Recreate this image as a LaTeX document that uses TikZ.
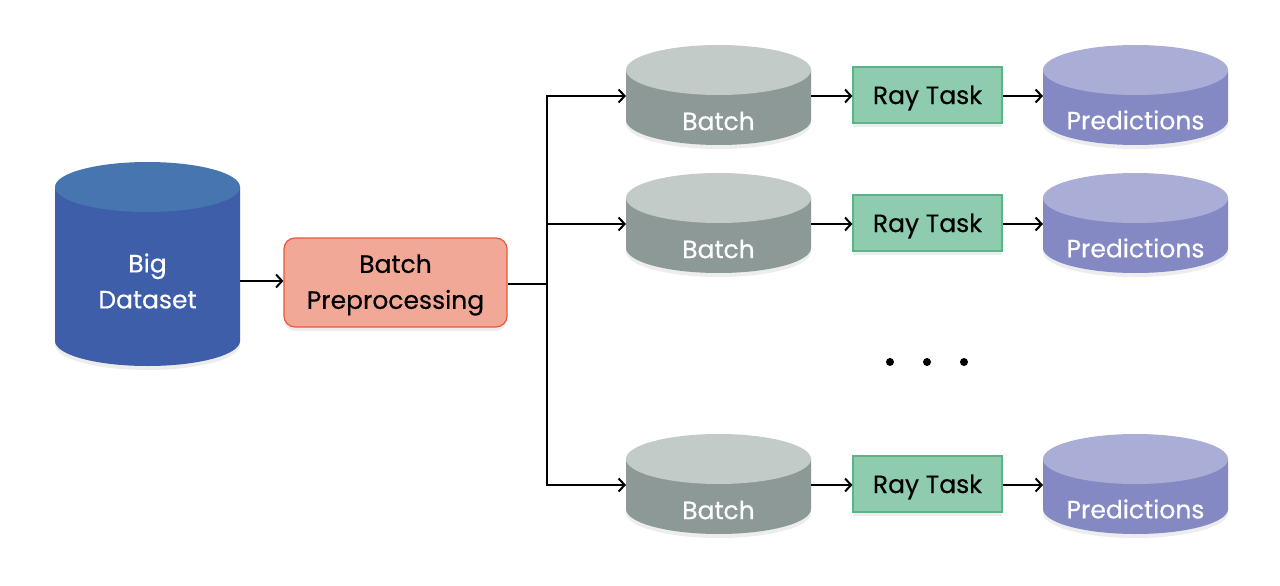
\documentclass[tikz,border=0pt]{standalone}
\usepackage{fontspec}
\setmainfont{Poppins}[FakeBold=0.4]
\usetikzlibrary{arrows.meta}
\definecolor{bigbody}{HTML}{3E5EAA}
\definecolor{bigtop}{HTML}{4775B0}
\definecolor{batchbody}{HTML}{8C9997}
\definecolor{batchtop}{HTML}{C2CBC7}
\definecolor{predbody}{HTML}{8489C3}
\definecolor{predtop}{HTML}{AAAED6}
\definecolor{prepfill}{HTML}{F2A896}
\definecolor{prepline}{HTML}{E8593C}
\definecolor{rayfill}{HTML}{8FCBAE}
\definecolor{rayline}{HTML}{5DB487}
% cylinder: #1 centre x, #2 top ellipse centre y, #3 bottom ellipse centre y, #4 rx, #5 body, #6 top
\newcommand{\mycyl}[6]{%
  \fill[black,opacity=0.07] (#1-#4,#2+4) -- (#1-#4,#3+4) arc[start angle=180,end angle=0,x radius=#4,y radius=25] -- (#1+#4,#2+4) -- cycle;
  \fill[#5] (#1-#4,#2) -- (#1-#4,#3) arc[start angle=180,end angle=0,x radius=#4,y radius=25] -- (#1+#4,#2) -- cycle;
  \fill[#6] (#1,#2) ellipse[x radius=#4,y radius=25];
}
\begin{document}
\begin{tikzpicture}[x=1pt,y=-1pt,
  txt/.style={font=\fontsize{25}{36}\selectfont, align=center, inner sep=0pt},
  anchorbox/.style={minimum width=185pt, minimum height=0pt, inner sep=0pt, outer sep=0pt},
  prepbox/.style={draw=prepline, fill=prepfill, line width=1.2pt, rounded corners=11pt,
    minimum width=223pt, minimum height=89pt, inner sep=0pt},
  raybox/.style={draw=rayline, fill=rayfill, line width=1.2pt,
    minimum width=149pt, minimum height=56pt, inner sep=0pt},
  arr/.style={line width=2pt, -{Straight Barb[length=6pt,width=13pt,line width=2pt]}},
  conn/.style={line width=2pt},
  dot/.style={circle, fill=black, inner sep=0pt, minimum size=8pt}
]
\useasboundingbox (0,0) rectangle (1280,586);
\fill[white] (0,0) rectangle (1280,586);

% Big Dataset
\mycyl{147.5}{187}{341}{92.5}{bigbody}{bigtop}
\node[anchorbox] (big) at (147.5,281) {};
\node[txt, text=white] (bigt) at (147.5,281) {Big\\Dataset};

% Batch preprocessing
\fill[black,opacity=0.07, rounded corners=11pt] (284,242) rectangle (507,331);
\node[prepbox] (prep) at (395.5,282.5) {};
\node[txt, text=black] (prept) at (395.5,285) {Batch\\Preprocessing};

\draw[arr] (big.east) -- (big.east -| prep.west);
\coordinate (split) at (547,284);
\draw[conn] (prep.east |- split) -- (split);

\foreach \i/\dy in {1/0, 2/128, 3/389}{
  \mycyl{718.5}{70+\dy}{120+\dy}{92.5}{batchbody}{batchtop}
  \mycyl{1135.5}{70+\dy}{120+\dy}{92.5}{predbody}{predtop}
  \node[anchorbox] (b\i) at (718.5,96+\dy) {};
  \node[txt, text=white] (bt\i) at (718.5,121+\dy) {Batch};
  \node[anchorbox] (p\i) at (1135.5,96+\dy) {};
  \node[txt, text=white] (pt\i) at (1135.5,120+\dy) {Predictions};
  \fill[black,opacity=0.07] (853,71+\dy) rectangle (1002,127+\dy);
  \node[raybox] (r\i) at (927.5,95+\dy) {};
  \node[txt, text=black] (rt\i) at (927.5,98+\dy) {Ray Task};
  \draw[arr] (split) |- (b\i.west);
  \draw[arr] (b\i.east) -- (b\i.east -| r\i.west);
  \draw[arr] (r\i.east |- p\i.west) -- (p\i.west);
}

% ellipsis dots
\node[dot] (d1) at (890,362) {};
\node[dot] (d2) at (927,362) {};
\node[dot] (d3) at (964,362) {};
\end{tikzpicture}
\end{document}
